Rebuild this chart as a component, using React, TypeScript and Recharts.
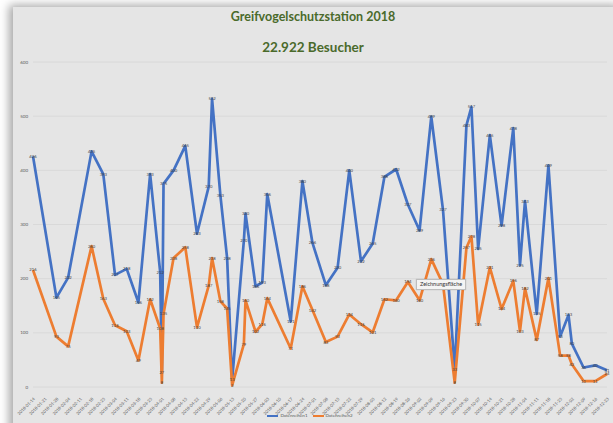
import React from "react";
import { LineChart, Line, XAxis, YAxis, CartesianGrid, Legend, LabelList } from "recharts";

const dates = [
  "2018-01-14", "2018-01-28", "2018-02-04", "2018-02-18", "2018-02-25", "2018-03-04", "2018-03-11", "2018-03-18",
  "2018-03-25", "2018-03-31", "2018-04-01", "2018-04-02", "2018-04-08", "2018-04-15", "2018-04-22", "2018-04-29",
  "2018-05-01", "2018-05-06", "2018-05-10", "2018-05-13", "2018-05-20", "2018-05-21", "2018-05-27", "2018-05-31",
  "2018-06-03", "2018-06-17", "2018-06-24", "2018-06-30", "2018-07-08", "2018-07-15", "2018-07-22", "2018-07-29",
  "2018-08-05", "2018-08-12", "2018-08-19", "2018-08-26", "2018-09-02", "2018-09-09", "2018-09-16", "2018-09-23",
  "2018-09-30", "2018-10-03", "2018-10-07", "2018-10-14", "2018-10-21", "2018-10-28", "2018-11-01", "2018-11-04",
  "2018-11-11", "2018-11-18", "2018-11-25", "2018-11-30", "2018-12-02", "2018-12-09", "2018-12-16", "2018-12-23",
];

const datenreihen1 = [
  426, 165, 202, 435, 393, 207, 218, 156,
  393, 212, 27, 375, 400, 445, 283, 370,
  532, 353, 238, 13, 270, 320, 186, 193,
  356, 121, 380, 266, 188, 220, 400, 232,
  265, 388, 402, 337, 289, 499, 327, 33,
  483, 517, 255, 465, 298, 478, 225, 343,
  135, 409, 93, 133, 80, 36, 40, 31,
];

const datenreihen2 = [
  216, 93, 75, 260, 163, 114, 103, 49,
  162, 108, 8, 135, 238, 258, 110, 187,
  238, 158, 145, 3, 79, 160, 102, 116,
  164, 71, 186, 142, 83, 93, 134, 116,
  101, 162, 160, 194, 160, 236, 190, 8,
  257, 278, 115, 221, 144, 196, 103, 182,
  87, 201, 58, 58, 42, 11, 11, 24,
];

// the reference hides this one value label behind the "Zeichnungsfläche" tooltip
const coveredLabelDate = "2018-09-16";

const tickLabels = [
  "2018-01-14", "2018-01-21", "2018-01-28",
  "2018-02-04", "2018-02-11", "2018-02-18", "2018-02-25",
  "2018-03-04", "2018-03-11", "2018-03-18", "2018-03-25",
  "2018-04-01", "2018-04-08", "2018-04-15", "2018-04-22", "2018-04-29",
  "2018-05-06", "2018-05-13", "2018-05-20", "2018-05-27",
  "2018-06-03", "2018-06-10", "2018-06-17", "2018-06-24",
  "2018-07-01", "2018-07-08", "2018-07-15", "2018-07-22", "2018-07-29",
  "2018-08-05", "2018-08-12", "2018-08-19", "2018-08-26",
  "2018-09-02", "2018-09-09", "2018-09-16", "2018-09-23", "2018-09-30",
  "2018-10-07", "2018-10-14", "2018-10-21", "2018-10-28",
  "2018-11-04", "2018-11-11", "2018-11-18", "2018-11-25",
  "2018-12-02", "2018-12-09", "2018-12-16", "2018-12-23",
];

const yTicks = [0, 100, 200, 300, 400, 500, 600];

const title = "Greifvogelschutzstation 2018";
const subtitle = "22.922 Besucher";
const seriesNames = ["Datenreihen1", "Datenreihen2"];
const tooltipText = "Zeichnungsfläche";

const BLUE = "#4472c4";
const ORANGE = "#ed7d31";
const FONT = "Lato, 'Open Sans', sans-serif";

const toDay = (s: string) => {
  const [y, m, d] = s.split("-").map(Number);
  return (Date.UTC(y, m - 1, d) - Date.UTC(2018, 0, 14)) / 86400000;
};

const data = dates.map((d, i) => ({
  day: toDay(d),
  date: d,
  a: datenreihen1[i],
  b: datenreihen2[i],
  bLabel: d === coveredLabelDate ? null : datenreihen2[i],
}));

const xTicks = tickLabels.map(toDay);
const labelByDay: Record<number, string> = {};
tickLabels.forEach((t) => (labelByDay[toDay(t)] = t));

const XTick = (props: any) => {
  const { x, y, payload } = props;
  const ty = y + 2;
  return (
    <text
      x={x}
      y={ty}
      transform={`rotate(-45 ${x} ${ty})`}
      textAnchor="end"
      dominantBaseline="hanging"
      fontSize={4.2}
      fill="#595959"
      fontFamily={FONT}
    >
      {labelByDay[payload.value]}
    </text>
  );
};

const LegendContent = () => (
  <div style={{ display: "flex", justifyContent: "center", alignItems: "center", fontFamily: FONT, fontSize: 4.5, color: "#595959" }}>
    {seriesNames.map((n, i) => (
      <div key={n} style={{ display: "flex", alignItems: "center", marginRight: i === 0 ? 5 : 0 }}>
        <div style={{ width: 11, height: 2, background: i === 0 ? BLUE : ORANGE, marginRight: 2 }} />
        <span>{n}</span>
      </div>
    ))}
  </div>
);

export default function App() {
  return (
    <div style={{ position: "absolute", left: 0, top: 0, width: 613, height: 423, background: "#ffffff", overflow: "hidden" }}>
      <div
        style={{
          position: "absolute",
          left: 13,
          top: 7,
          width: 610,
          height: 430,
          background: "#e5e5e5",
          boxShadow: "-4px -2px 9px rgba(0,0,0,0.35)",
        }}
      />
      <div style={{ position: "absolute", left: 13, width: 600, top: 9, lineHeight: "16px", textAlign: "center", fontFamily: FONT, fontWeight: 700, fontSize: 12.5, color: "#4a6a2b" }}>
        {title}
      </div>
      <div style={{ position: "absolute", left: 13, width: 600, top: 39, lineHeight: "16px", textAlign: "center", fontFamily: FONT, fontWeight: 700, fontSize: 13.5, color: "#4a6a2b" }}>
        {subtitle}
      </div>
      <div style={{ position: "absolute", left: 0, top: 0 }}>
        <LineChart width={613} height={423} data={data} margin={{ top: 62, right: 6, bottom: 0, left: 13 }}>
          <CartesianGrid vertical={false} stroke="#d6d6d6" strokeWidth={0.8} />
          <XAxis
            dataKey="day"
            type="number"
            domain={[0, 343]}
            ticks={xTicks}
            interval={0}
            tick={<XTick />}
            axisLine={false}
            tickLine={false}
            height={26}
          />
          <YAxis
            domain={[0, 600]}
            ticks={yTicks}
            width={20}
            axisLine={false}
            tickLine={false}
            tickSize={0}
            tickMargin={5}
            tick={{ fontSize: 4.5, fill: "#595959", fontFamily: FONT }}
          />
          <Legend verticalAlign="bottom" height={10} content={<LegendContent />} />
          <Line type="linear" dataKey="a" name={seriesNames[0]} stroke={BLUE} strokeWidth={2.7} dot={false} isAnimationActive={false} strokeLinejoin="round">
            <LabelList dataKey="a" position="center" fontSize={4.2} fill="#404040" fontFamily={FONT} />
          </Line>
          <Line type="linear" dataKey="b" name={seriesNames[1]} stroke={ORANGE} strokeWidth={2.7} dot={false} isAnimationActive={false} strokeLinejoin="round">
            <LabelList dataKey="bLabel" position="center" fontSize={4.2} fill="#404040" fontFamily={FONT} />
          </Line>
        </LineChart>
      </div>
      <div
        style={{
          position: "absolute",
          left: 416,
          top: 279,
          padding: "1px 3px",
          background: "#f4f4f4",
          border: "0.5px solid #bdbdbd",
          fontFamily: FONT,
          fontSize: 5.5,
          color: "#333",
          lineHeight: "7px",
          boxShadow: "0 0 1px rgba(0,0,0,0.2)",
        }}
      >
        {tooltipText}
      </div>
    </div>
  );
}
